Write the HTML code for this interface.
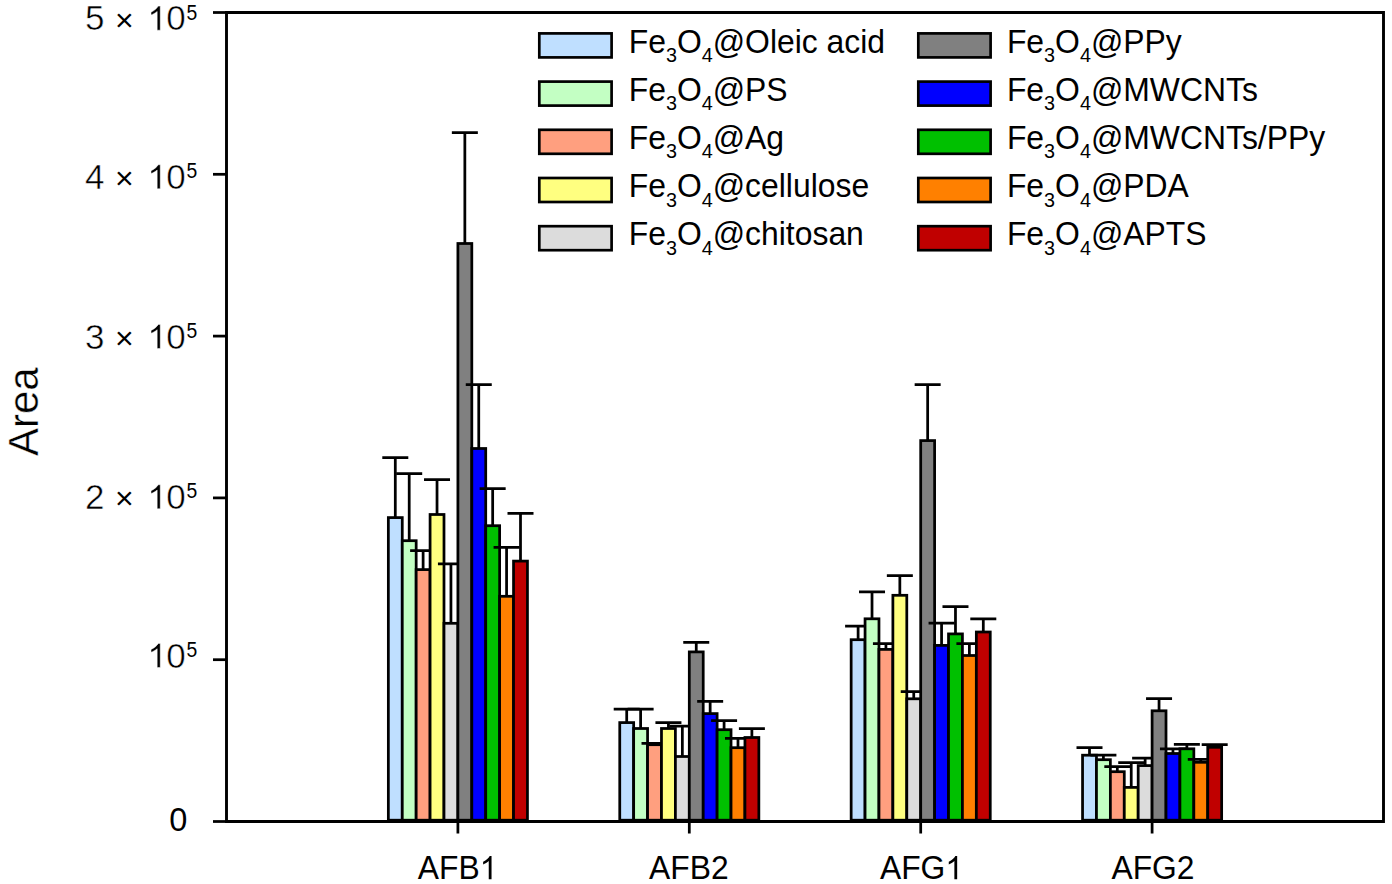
<!DOCTYPE html>
<html><head><meta charset="utf-8"><style>
html,body{margin:0;padding:0;background:#fff;}
svg{display:block;}
text{font-family:"Liberation Sans",sans-serif;fill:#000;}
</style></head><body>
<svg width="1392" height="884" viewBox="0 0 1392 884">
<rect x="388.35" y="517.60" width="13.91" height="302.60" fill="#BFDFFF" stroke="#000" stroke-width="2.75"/>
<path d="M395.30 517.60V457.50M382.30 457.50H408.30" stroke="#000" stroke-width="2.75" fill="none"/>
<rect x="402.26" y="540.70" width="13.91" height="279.50" fill="#C3FFC3" stroke="#000" stroke-width="2.75"/>
<path d="M409.21 540.70V473.60M396.21 473.60H422.21" stroke="#000" stroke-width="2.75" fill="none"/>
<rect x="416.17" y="569.60" width="13.91" height="250.60" fill="#FF9F7F" stroke="#000" stroke-width="2.75"/>
<path d="M423.12 569.60V550.60M410.12 550.60H436.12" stroke="#000" stroke-width="2.75" fill="none"/>
<rect x="430.08" y="514.50" width="13.91" height="305.70" fill="#FFFF80" stroke="#000" stroke-width="2.75"/>
<path d="M437.03 514.50V479.50M424.03 479.50H450.03" stroke="#000" stroke-width="2.75" fill="none"/>
<rect x="443.99" y="623.30" width="13.91" height="196.90" fill="#DCDCDC" stroke="#000" stroke-width="2.75"/>
<path d="M450.94 623.30V563.90M437.94 563.90H463.94" stroke="#000" stroke-width="2.75" fill="none"/>
<rect x="457.90" y="243.50" width="13.91" height="576.70" fill="#808080" stroke="#000" stroke-width="2.75"/>
<path d="M464.85 243.50V132.50M451.85 132.50H477.85" stroke="#000" stroke-width="2.75" fill="none"/>
<rect x="471.81" y="448.50" width="13.91" height="371.70" fill="#0000FF" stroke="#000" stroke-width="2.75"/>
<path d="M478.76 448.50V384.60M465.76 384.60H491.76" stroke="#000" stroke-width="2.75" fill="none"/>
<rect x="485.72" y="525.70" width="13.91" height="294.50" fill="#00C000" stroke="#000" stroke-width="2.75"/>
<path d="M492.67 525.70V488.50M479.67 488.50H505.67" stroke="#000" stroke-width="2.75" fill="none"/>
<rect x="499.63" y="596.30" width="13.91" height="223.90" fill="#FF8000" stroke="#000" stroke-width="2.75"/>
<path d="M506.58 596.30V547.40M493.58 547.40H519.59" stroke="#000" stroke-width="2.75" fill="none"/>
<rect x="513.54" y="561.10" width="13.91" height="259.10" fill="#C00000" stroke="#000" stroke-width="2.75"/>
<path d="M520.50 561.10V513.40M507.50 513.40H533.50" stroke="#000" stroke-width="2.75" fill="none"/>
<rect x="619.75" y="722.60" width="13.91" height="97.60" fill="#BFDFFF" stroke="#000" stroke-width="2.75"/>
<path d="M626.71 722.60V709.00M613.71 709.00H639.71" stroke="#000" stroke-width="2.75" fill="none"/>
<rect x="633.66" y="728.50" width="13.91" height="91.70" fill="#C3FFC3" stroke="#000" stroke-width="2.75"/>
<path d="M640.62 728.50V709.20M627.62 709.20H653.62" stroke="#000" stroke-width="2.75" fill="none"/>
<rect x="647.57" y="744.70" width="13.91" height="75.50" fill="#FF9F7F" stroke="#000" stroke-width="2.75"/>
<path d="M654.52 744.70V743.40M641.52 743.40H667.52" stroke="#000" stroke-width="2.75" fill="none"/>
<rect x="661.48" y="728.50" width="13.91" height="91.70" fill="#FFFF80" stroke="#000" stroke-width="2.75"/>
<path d="M668.43 728.50V722.60M655.43 722.60H681.43" stroke="#000" stroke-width="2.75" fill="none"/>
<rect x="675.39" y="756.50" width="13.91" height="63.70" fill="#DCDCDC" stroke="#000" stroke-width="2.75"/>
<path d="M682.35 756.50V726.00M669.35 726.00H695.35" stroke="#000" stroke-width="2.75" fill="none"/>
<rect x="689.30" y="651.90" width="13.91" height="168.30" fill="#808080" stroke="#000" stroke-width="2.75"/>
<path d="M696.25 651.90V642.40M683.25 642.40H709.25" stroke="#000" stroke-width="2.75" fill="none"/>
<rect x="703.21" y="713.60" width="13.91" height="106.60" fill="#0000FF" stroke="#000" stroke-width="2.75"/>
<path d="M710.16 713.60V701.40M697.16 701.40H723.16" stroke="#000" stroke-width="2.75" fill="none"/>
<rect x="717.12" y="729.70" width="13.91" height="90.50" fill="#00C000" stroke="#000" stroke-width="2.75"/>
<path d="M724.08 729.70V720.60M711.08 720.60H737.08" stroke="#000" stroke-width="2.75" fill="none"/>
<rect x="731.03" y="747.70" width="13.91" height="72.50" fill="#FF8000" stroke="#000" stroke-width="2.75"/>
<path d="M737.99 747.70V738.40M724.99 738.40H750.99" stroke="#000" stroke-width="2.75" fill="none"/>
<rect x="744.94" y="737.50" width="13.91" height="82.70" fill="#C00000" stroke="#000" stroke-width="2.75"/>
<path d="M751.89 737.50V728.50M738.89 728.50H764.89" stroke="#000" stroke-width="2.75" fill="none"/>
<rect x="851.15" y="639.70" width="13.91" height="180.50" fill="#BFDFFF" stroke="#000" stroke-width="2.75"/>
<path d="M858.11 639.70V626.20M845.11 626.20H871.11" stroke="#000" stroke-width="2.75" fill="none"/>
<rect x="865.06" y="618.80" width="13.91" height="201.40" fill="#C3FFC3" stroke="#000" stroke-width="2.75"/>
<path d="M872.02 618.80V591.90M859.02 591.90H885.02" stroke="#000" stroke-width="2.75" fill="none"/>
<rect x="878.97" y="649.40" width="13.91" height="170.80" fill="#FF9F7F" stroke="#000" stroke-width="2.75"/>
<path d="M885.93 649.40V643.70M872.93 643.70H898.93" stroke="#000" stroke-width="2.75" fill="none"/>
<rect x="892.88" y="595.30" width="13.91" height="224.90" fill="#FFFF80" stroke="#000" stroke-width="2.75"/>
<path d="M899.84 595.30V575.50M886.84 575.50H912.84" stroke="#000" stroke-width="2.75" fill="none"/>
<rect x="906.79" y="698.80" width="13.91" height="121.40" fill="#DCDCDC" stroke="#000" stroke-width="2.75"/>
<path d="M913.75 698.80V691.60M900.75 691.60H926.75" stroke="#000" stroke-width="2.75" fill="none"/>
<rect x="920.70" y="440.60" width="13.91" height="379.60" fill="#808080" stroke="#000" stroke-width="2.75"/>
<path d="M927.66 440.60V384.50M914.66 384.50H940.66" stroke="#000" stroke-width="2.75" fill="none"/>
<rect x="934.61" y="645.40" width="13.91" height="174.80" fill="#0000FF" stroke="#000" stroke-width="2.75"/>
<path d="M941.57 645.40V623.20M928.57 623.20H954.57" stroke="#000" stroke-width="2.75" fill="none"/>
<rect x="948.52" y="633.90" width="13.91" height="186.30" fill="#00C000" stroke="#000" stroke-width="2.75"/>
<path d="M955.48 633.90V606.70M942.48 606.70H968.48" stroke="#000" stroke-width="2.75" fill="none"/>
<rect x="962.43" y="655.50" width="13.91" height="164.70" fill="#FF8000" stroke="#000" stroke-width="2.75"/>
<path d="M969.39 655.50V643.70M956.39 643.70H982.39" stroke="#000" stroke-width="2.75" fill="none"/>
<rect x="976.34" y="632.00" width="13.91" height="188.20" fill="#C00000" stroke="#000" stroke-width="2.75"/>
<path d="M983.30 632.00V618.80M970.30 618.80H996.30" stroke="#000" stroke-width="2.75" fill="none"/>
<rect x="1082.55" y="755.20" width="13.91" height="65.00" fill="#BFDFFF" stroke="#000" stroke-width="2.75"/>
<path d="M1089.50 755.20V747.70M1076.50 747.70H1102.50" stroke="#000" stroke-width="2.75" fill="none"/>
<rect x="1096.46" y="759.70" width="13.91" height="60.50" fill="#C3FFC3" stroke="#000" stroke-width="2.75"/>
<path d="M1103.41 759.70V755.00M1090.41 755.00H1116.41" stroke="#000" stroke-width="2.75" fill="none"/>
<rect x="1110.37" y="771.70" width="13.91" height="48.50" fill="#FF9F7F" stroke="#000" stroke-width="2.75"/>
<path d="M1117.32 771.70V766.60M1104.32 766.60H1130.32" stroke="#000" stroke-width="2.75" fill="none"/>
<rect x="1124.28" y="787.40" width="13.91" height="32.80" fill="#FFFF80" stroke="#000" stroke-width="2.75"/>
<path d="M1131.23 787.40V762.60M1118.23 762.60H1144.23" stroke="#000" stroke-width="2.75" fill="none"/>
<rect x="1138.19" y="765.60" width="13.91" height="54.60" fill="#DCDCDC" stroke="#000" stroke-width="2.75"/>
<path d="M1145.14 765.60V758.00M1132.14 758.00H1158.14" stroke="#000" stroke-width="2.75" fill="none"/>
<rect x="1152.10" y="710.80" width="13.91" height="109.40" fill="#808080" stroke="#000" stroke-width="2.75"/>
<path d="M1159.05 710.80V698.60M1146.05 698.60H1172.05" stroke="#000" stroke-width="2.75" fill="none"/>
<rect x="1166.01" y="753.50" width="13.91" height="66.70" fill="#0000FF" stroke="#000" stroke-width="2.75"/>
<path d="M1172.96 753.50V748.80M1159.96 748.80H1185.96" stroke="#000" stroke-width="2.75" fill="none"/>
<rect x="1179.92" y="748.80" width="13.91" height="71.40" fill="#00C000" stroke="#000" stroke-width="2.75"/>
<path d="M1186.87 748.80V744.40M1173.87 744.40H1199.87" stroke="#000" stroke-width="2.75" fill="none"/>
<rect x="1193.83" y="762.30" width="13.91" height="57.90" fill="#FF8000" stroke="#000" stroke-width="2.75"/>
<path d="M1200.78 762.30V759.30M1187.78 759.30H1213.78" stroke="#000" stroke-width="2.75" fill="none"/>
<rect x="1207.74" y="747.30" width="13.91" height="72.90" fill="#C00000" stroke="#000" stroke-width="2.75"/>
<path d="M1214.69 747.30V744.60M1201.69 744.60H1227.69" stroke="#000" stroke-width="2.75" fill="none"/>
<path d="M226.5 12.5H1383.5V821.5H226.5Z" fill="none" stroke="#000" stroke-width="2.9"/>
<path d="M213 821.50H226.5" stroke="#000" stroke-width="2.75"/>
<path d="M213 659.70H226.5" stroke="#000" stroke-width="2.75"/>
<path d="M213 497.90H226.5" stroke="#000" stroke-width="2.75"/>
<path d="M213 336.10H226.5" stroke="#000" stroke-width="2.75"/>
<path d="M213 174.30H226.5" stroke="#000" stroke-width="2.75"/>
<path d="M213 12.50H226.5" stroke="#000" stroke-width="2.75"/>
<path d="M457.90 821.5V833.5" stroke="#000" stroke-width="2.75"/>
<path d="M689.30 821.5V833.5" stroke="#000" stroke-width="2.75"/>
<path d="M920.70 821.5V833.5" stroke="#000" stroke-width="2.75"/>
<path d="M1152.10 821.5V833.5" stroke="#000" stroke-width="2.75"/>
<g stroke="#fff" stroke-width="0.5">
<path transform="translate(147.21 667.50) scale(35.000 -33.495)" vector-effect="non-scaling-stroke" d="M0.3726 0H0.2847V0.5601Q0.2529 0.5298 0.2014 0.4995T0.1084 0.4541V0.5391Q0.1821 0.5737 0.2373 0.6230T0.3154 0.7188H0.3726Z"/>
<text x="166.13" y="667.50" font-size="35.0">0</text>
<text transform="translate(186.53 656.90) scale(0.88 1)" font-size="22" stroke="none">5</text>
<text x="85.00" y="508.80" font-size="35.0">2</text>
<text x="115.00" y="509.30" font-size="32" stroke="none">&#215;</text>
<path transform="translate(147.21 508.80) scale(35.000 -33.495)" vector-effect="non-scaling-stroke" d="M0.3726 0H0.2847V0.5601Q0.2529 0.5298 0.2014 0.4995T0.1084 0.4541V0.5391Q0.1821 0.5737 0.2373 0.6230T0.3154 0.7188H0.3726Z"/>
<text x="166.13" y="508.80" font-size="35.0">0</text>
<text transform="translate(186.53 498.20) scale(0.88 1)" font-size="22" stroke="none">5</text>
<text x="85.00" y="348.50" font-size="35.0">3</text>
<text x="115.00" y="349.00" font-size="32" stroke="none">&#215;</text>
<path transform="translate(147.21 348.50) scale(35.000 -33.495)" vector-effect="non-scaling-stroke" d="M0.3726 0H0.2847V0.5601Q0.2529 0.5298 0.2014 0.4995T0.1084 0.4541V0.5391Q0.1821 0.5737 0.2373 0.6230T0.3154 0.7188H0.3726Z"/>
<text x="166.13" y="348.50" font-size="35.0">0</text>
<text transform="translate(186.53 337.90) scale(0.88 1)" font-size="22" stroke="none">5</text>
<text x="85.00" y="188.80" font-size="35.0">4</text>
<text x="115.00" y="189.30" font-size="32" stroke="none">&#215;</text>
<path transform="translate(147.21 188.80) scale(35.000 -33.495)" vector-effect="non-scaling-stroke" d="M0.3726 0H0.2847V0.5601Q0.2529 0.5298 0.2014 0.4995T0.1084 0.4541V0.5391Q0.1821 0.5737 0.2373 0.6230T0.3154 0.7188H0.3726Z"/>
<text x="166.13" y="188.80" font-size="35.0">0</text>
<text transform="translate(186.53 178.20) scale(0.88 1)" font-size="22" stroke="none">5</text>
<text x="85.00" y="30.20" font-size="35.0">5</text>
<text x="115.00" y="30.70" font-size="32" stroke="none">&#215;</text>
<path transform="translate(147.21 30.20) scale(35.000 -33.495)" vector-effect="non-scaling-stroke" d="M0.3726 0H0.2847V0.5601Q0.2529 0.5298 0.2014 0.4995T0.1084 0.4541V0.5391Q0.1821 0.5737 0.2373 0.6230T0.3154 0.7188H0.3726Z"/>
<text x="166.13" y="30.20" font-size="35.0">0</text>
<text transform="translate(186.53 19.60) scale(0.88 1)" font-size="22" stroke="none">5</text>
</g>
<text transform="translate(169.13 831.40) scale(1 1.03)" font-size="32.5">0</text>
<text transform="translate(417.84 879.20) scale(1 1.066)" font-size="31.8">AFB</text>
<path transform="translate(479.69 879.20) scale(31.800 -32.441)" vector-effect="non-scaling-stroke" d="M0.3726 0H0.2847V0.5601Q0.2529 0.5298 0.2014 0.4995T0.1084 0.4541V0.5391Q0.1821 0.5737 0.2373 0.6230T0.3154 0.7188H0.3726Z"/>
<text transform="translate(649.04 879.20) scale(1 1.066)" font-size="31.8">AFB</text>
<text transform="translate(710.89 879.20) scale(1 1.066)" font-size="31.8">2</text>
<text transform="translate(879.94 879.20) scale(1 1.066)" font-size="31.8">AFG</text>
<path transform="translate(945.32 879.20) scale(31.800 -32.441)" vector-effect="non-scaling-stroke" d="M0.3726 0H0.2847V0.5601Q0.2529 0.5298 0.2014 0.4995T0.1084 0.4541V0.5391Q0.1821 0.5737 0.2373 0.6230T0.3154 0.7188H0.3726Z"/>
<text transform="translate(1111.44 879.20) scale(1 1.066)" font-size="31.8">AFG</text>
<text transform="translate(1176.82 879.20) scale(1 1.066)" font-size="31.8">2</text>
<text transform="translate(38 411.7) rotate(-90)" font-size="42" text-anchor="middle" stroke="#fff" stroke-width="0.4">Area</text>
<rect x="539.3" y="33.40" width="72.3" height="24" fill="#BFDFFF" stroke="#000" stroke-width="2.7"/>
<text transform="translate(628.68 52.50) scale(1 1.055)" font-size="31.9">Fe<tspan font-size="19.8" dy="9.0">3</tspan><tspan dy="-9.0">O</tspan><tspan font-size="19.8" dy="9.0">4</tspan><tspan dy="-9.0">@Oleic acid</tspan></text>
<rect x="539.3" y="81.60" width="72.3" height="24" fill="#C3FFC3" stroke="#000" stroke-width="2.7"/>
<text transform="translate(628.68 100.70) scale(1 1.055)" font-size="31.9">Fe<tspan font-size="19.8" dy="9.0">3</tspan><tspan dy="-9.0">O</tspan><tspan font-size="19.8" dy="9.0">4</tspan><tspan dy="-9.0">@PS</tspan></text>
<rect x="539.3" y="129.80" width="72.3" height="24" fill="#FF9F7F" stroke="#000" stroke-width="2.7"/>
<text transform="translate(628.68 148.90) scale(1 1.055)" font-size="31.9">Fe<tspan font-size="19.8" dy="9.0">3</tspan><tspan dy="-9.0">O</tspan><tspan font-size="19.8" dy="9.0">4</tspan><tspan dy="-9.0">@Ag</tspan></text>
<rect x="539.3" y="178.00" width="72.3" height="24" fill="#FFFF80" stroke="#000" stroke-width="2.7"/>
<text transform="translate(628.68 197.10) scale(1 1.055)" font-size="31.9">Fe<tspan font-size="19.8" dy="9.0">3</tspan><tspan dy="-9.0">O</tspan><tspan font-size="19.8" dy="9.0">4</tspan><tspan dy="-9.0">@cellulose</tspan></text>
<rect x="539.3" y="226.20" width="72.3" height="24" fill="#DCDCDC" stroke="#000" stroke-width="2.7"/>
<text transform="translate(628.68 245.30) scale(1 1.055)" font-size="31.9">Fe<tspan font-size="19.8" dy="9.0">3</tspan><tspan dy="-9.0">O</tspan><tspan font-size="19.8" dy="9.0">4</tspan><tspan dy="-9.0">@chitosan</tspan></text>
<rect x="918.3" y="33.40" width="72.3" height="24" fill="#808080" stroke="#000" stroke-width="2.7"/>
<text transform="translate(1006.88 52.50) scale(1 1.055)" font-size="31.9">Fe<tspan font-size="19.8" dy="9.0">3</tspan><tspan dy="-9.0">O</tspan><tspan font-size="19.8" dy="9.0">4</tspan><tspan dy="-9.0">@PPy</tspan></text>
<rect x="918.3" y="81.60" width="72.3" height="24" fill="#0000FF" stroke="#000" stroke-width="2.7"/>
<text transform="translate(1006.88 100.70) scale(1 1.055)" font-size="31.9">Fe<tspan font-size="19.8" dy="9.0">3</tspan><tspan dy="-9.0">O</tspan><tspan font-size="19.8" dy="9.0">4</tspan><tspan dy="-9.0">@MWCNTs</tspan></text>
<rect x="918.3" y="129.80" width="72.3" height="24" fill="#00C000" stroke="#000" stroke-width="2.7"/>
<text transform="translate(1006.88 148.90) scale(1 1.055)" font-size="31.9">Fe<tspan font-size="19.8" dy="9.0">3</tspan><tspan dy="-9.0">O</tspan><tspan font-size="19.8" dy="9.0">4</tspan><tspan dy="-9.0">@MWCNTs/PPy</tspan></text>
<rect x="918.3" y="178.00" width="72.3" height="24" fill="#FF8000" stroke="#000" stroke-width="2.7"/>
<text transform="translate(1006.88 197.10) scale(1 1.055)" font-size="31.9">Fe<tspan font-size="19.8" dy="9.0">3</tspan><tspan dy="-9.0">O</tspan><tspan font-size="19.8" dy="9.0">4</tspan><tspan dy="-9.0">@PDA</tspan></text>
<rect x="918.3" y="226.20" width="72.3" height="24" fill="#C00000" stroke="#000" stroke-width="2.7"/>
<text transform="translate(1006.88 245.30) scale(1 1.055)" font-size="31.9">Fe<tspan font-size="19.8" dy="9.0">3</tspan><tspan dy="-9.0">O</tspan><tspan font-size="19.8" dy="9.0">4</tspan><tspan dy="-9.0">@APTS</tspan></text>
</svg>
</body></html>
